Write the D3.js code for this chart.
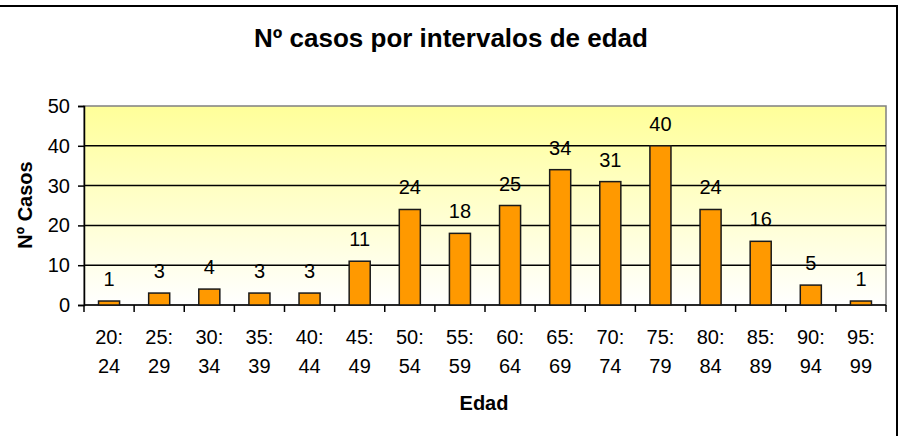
<!DOCTYPE html>
<html>
<head>
<meta charset="utf-8">
<script src="https://cdn.jsdelivr.net/npm/d3@7"></script>
<style>
  body { margin: 0; background: #fff; }
  svg { display: block; font-family: Arial, "Liberation Sans", sans-serif; }
</style>
</head>
<body>
<div id="chart"></div>
<script>
const categories = ['20:24', '25:29', '30:34', '35:39', '40:44', '45:49', '50:54', '55:59',
  '60:64', '65:69', '70:74', '75:79', '80:84', '85:89', '90:94', '95:99'];
const casos = [1, 3, 4, 3, 3, 11, 24, 18, 25, 34, 31, 40, 24, 16, 5, 1];
const yTicks = [0, 10, 20, 30, 40, 50];

const width = 903, height = 436;
const margin = { top: 106, right: 903 - 886, bottom: 436 - 305, left: 84 };
const w = width - margin.left - margin.right;
const h = height - margin.top - margin.bottom;

const svg = d3.select('#chart').append('svg')
  .attr('width', width)
  .attr('height', height);

// chart frame (left & bottom edges fall outside the picture)
svg.append('rect')
  .attr('x', -3).attr('y', 6)
  .attr('width', 900).attr('height', 440)
  .attr('fill', '#fff')
  .attr('stroke', '#000')
  .attr('stroke-width', 2);

const defs = svg.append('defs');
const grad = defs.append('linearGradient')
  .attr('id', 'bg')
  .attr('x1', 0).attr('y1', 0).attr('x2', 0).attr('y2', 1);
grad.append('stop').attr('offset', '0%').attr('stop-color', '#ffff99');
grad.append('stop').attr('offset', '100%').attr('stop-color', '#ffffff');

const g = svg.append('g')
  .attr('transform', `translate(${margin.left},${margin.top})`);

const x = d3.scaleBand()
  .domain(categories)
  .range([0, w])
  .paddingInner(0.58)
  .paddingOuter(0.29);

const y = d3.scaleLinear()
  .domain([0, 50])
  .range([h, 0]);

g.append('rect')
  .attr('width', w).attr('height', h)
  .attr('fill', 'url(#bg)')
  .attr('stroke', '#808080')
  .attr('stroke-width', 1.5);

// gridlines
g.selectAll('.grid')
  .data(yTicks.filter(d => d > 0 && d < 50))
  .join('line')
  .attr('x1', 0).attr('x2', w)
  .attr('y1', d => y(d)).attr('y2', d => y(d))
  .attr('stroke', '#000')
  .attr('stroke-width', 1.5);

// y axis
const yAxis = g.append('g')
  .call(d3.axisLeft(y).tickValues(yTicks).tickSize(6).tickPadding(8));
yAxis.select('.domain').attr('stroke', '#000').attr('stroke-width', 1.5);
yAxis.selectAll('.tick line').attr('stroke', '#000').attr('stroke-width', 1.5);
yAxis.selectAll('.tick text')
  .attr('font-size', 20)
  .attr('fill', '#000')
  .attr('font-family', 'Arial, "Liberation Sans", sans-serif');

// x axis baseline and ticks between categories
const xTickPos = d3.range(categories.length + 1).map(i => i * w / categories.length);
g.append('line')
  .attr('x1', 0).attr('x2', w)
  .attr('y1', h).attr('y2', h)
  .attr('stroke', '#000').attr('stroke-width', 1.5);
g.selectAll('.xtick')
  .data(xTickPos)
  .join('line')
  .attr('x1', d => d).attr('x2', d => d)
  .attr('y1', h).attr('y2', h + 7)
  .attr('stroke', '#000').attr('stroke-width', 1.5);

// bars
g.selectAll('.bar')
  .data(categories)
  .join('rect')
  .attr('x', (d) => x(d))
  .attr('y', (d, i) => y(casos[i]))
  .attr('width', x.bandwidth())
  .attr('height', (d, i) => h - y(casos[i]))
  .attr('fill', '#ff9900')
  .attr('stroke', '#1a1a1a')
  .attr('stroke-width', 1.5);

// data labels
g.selectAll('.val')
  .data(categories)
  .join('text')
  .attr('x', d => x(d) + x.bandwidth() / 2)
  .attr('y', (d, i) => y(casos[i]) - 15)
  .attr('text-anchor', 'middle')
  .attr('font-size', 20)
  .text((d, i) => casos[i]);

// category labels on two lines
const cat = g.selectAll('.cat')
  .data(categories)
  .join('text')
  .attr('text-anchor', 'middle')
  .attr('font-size', 20)
  .attr('transform', d => `translate(${x(d) + x.bandwidth() / 2},${h + 39})`);
cat.append('tspan').attr('x', 0).attr('y', 0).text(d => d.split(':')[0] + ':');
cat.append('tspan').attr('x', 0).attr('y', 29).text(d => d.split(':')[1]);

// titles
svg.append('text')
  .attr('x', 451).attr('y', 47)
  .attr('text-anchor', 'middle')
  .attr('font-size', 26)
  .attr('font-weight', 'bold')
  .text('Nº casos por intervalos de edad');

svg.append('text')
  .attr('x', 484).attr('y', 410)
  .attr('text-anchor', 'middle')
  .attr('font-size', 20)
  .attr('font-weight', 'bold')
  .text('Edad');

svg.append('text')
  .attr('transform', 'translate(32,205) rotate(-90)')
  .attr('text-anchor', 'middle')
  .attr('font-size', 20)
  .attr('font-weight', 'bold')
  .text('Nº Casos');
</script>
</body>
</html>
